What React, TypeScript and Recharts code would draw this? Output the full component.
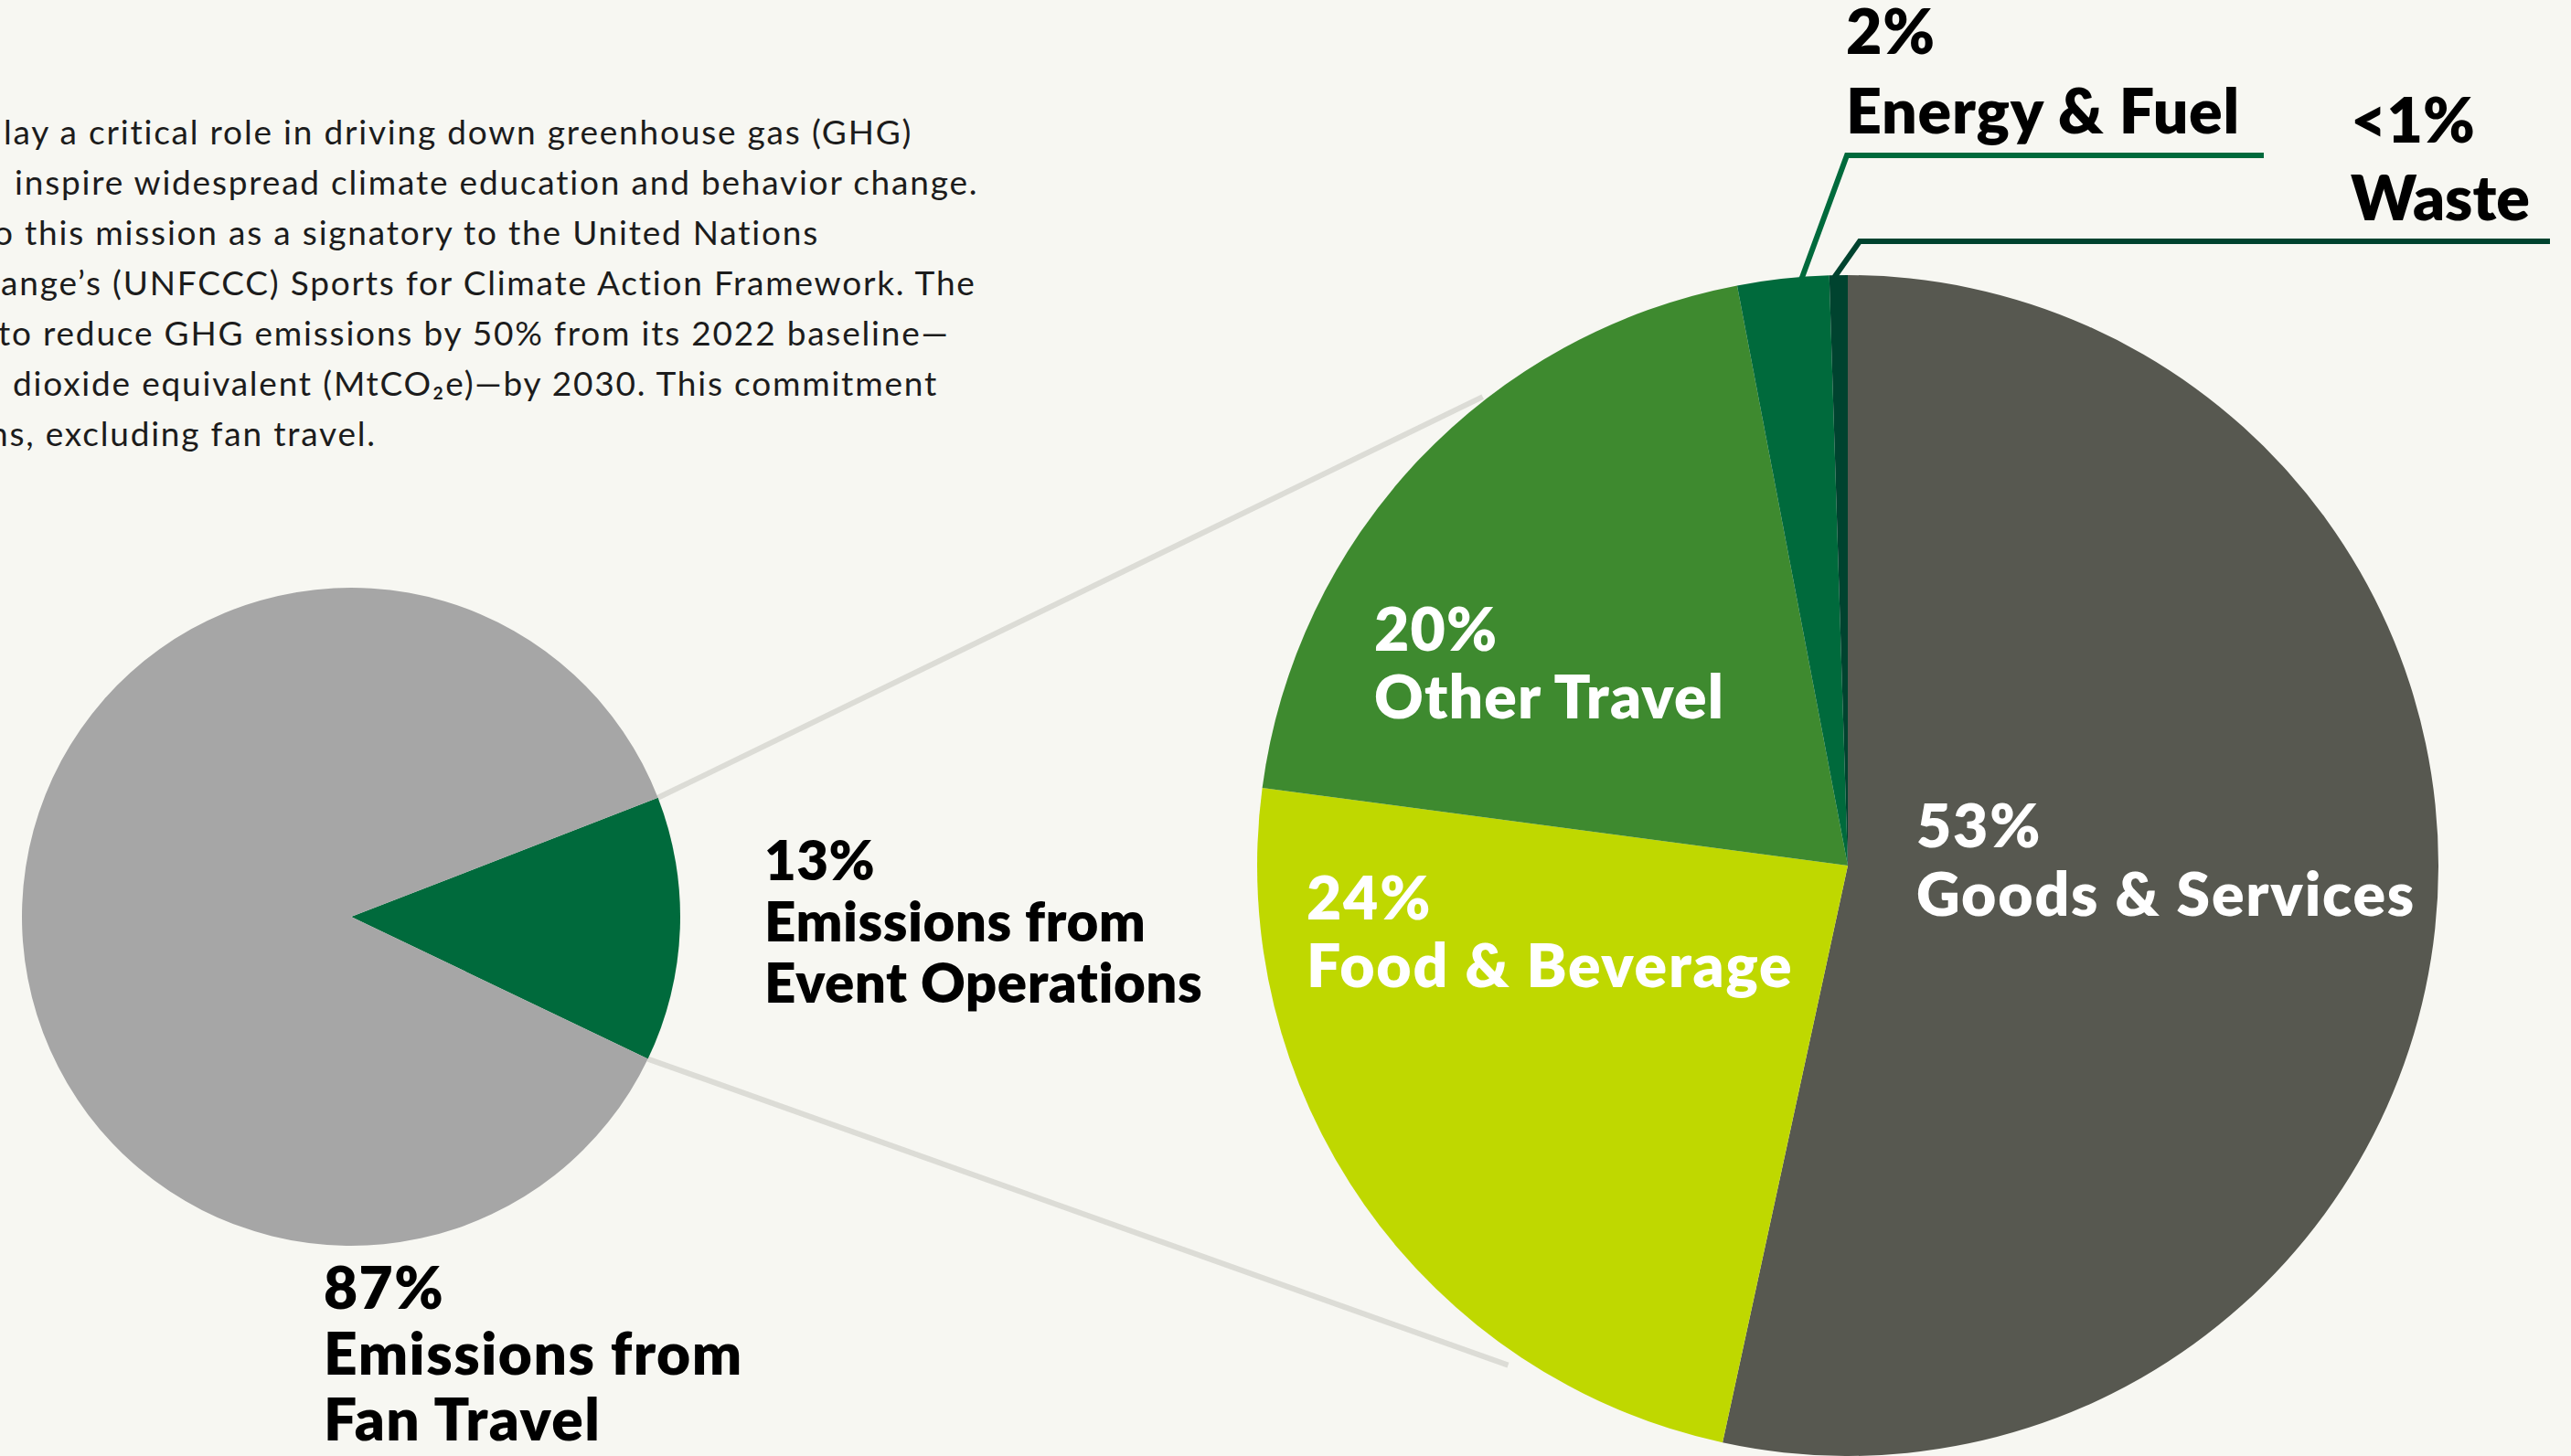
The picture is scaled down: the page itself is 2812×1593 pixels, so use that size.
import React from "react";
import { PieChart, Pie, Cell } from "recharts";

const W = 2812;
const H = 1593;

// overall split (small pie)
const overallNames = ["Event Operations", "Fan Travel"];
const overallValues = [13, 87];
const overallPct = ["13%", "87%"];
const overallColors = ["#006a3c", "#a6a6a6"];

// event operations breakdown (big pie)
const opsNames = ["Goods & Services", "Food & Beverage", "Other Travel", "Energy & Fuel", "Waste"];
const opsValues = [53.4, 23.7, 19.9, 2.5, 0.5];
const opsPct = ["53%", "24%", "20%", "2%", "<1%"];
const opsColors = ["#575850", "#bfd800", "#3e8a2f", "#006a3c", "#00432f"];

const introLines = [
  "lay a critical role in driving down greenhouse gas (GHG)",
  "inspire widespread climate education and behavior change.",
  "o this mission as a signatory to the United Nations",
  "ange\u2019s (UNFCCC) Sports for Climate Action Framework. The",
  "to reduce GHG emissions by 50% from its 2022 baseline\u2014",
  "dioxide equivalent (MtCO\u2082e)\u2014by 2030. This commitment",
  "ns, excluding fan travel.",
];
const introX = [4, 16, -7, 1, -2, 14, -12];

const BG = "#f7f7f2";
const FONT = "Lato, 'Open Sans', sans-serif";

const small = { cx: 384, cy: 1003, r: 360, start: 21.2 };
const big = { cx: 2021, cy: 947, r: 646 };

const polar = (cx: number, cy: number, r: number, deg: number) => {
  const a = (deg * Math.PI) / 180;
  return [cx + r * Math.cos(a), cy - r * Math.sin(a)];
};

const overallData = overallNames.map((name, i) => ({ name, value: overallValues[i] }));
const opsData = opsNames.map((name, i) => ({ name, value: opsValues[i] }));

type Lbl = { x: number; y: number; gap: number; size: number; ls: number; color: string; lines: string[] };

const labels: Lbl[] = [
  { x: 836, y: 963, gap: 67, size: 60, ls: 0.5, color: "#000", lines: [overallPct[0], "Emissions from", overallNames[0]] },
  { x: 354, y: 1432, gap: 72, size: 64, ls: 1.5, color: "#000", lines: [overallPct[1], "Emissions from", overallNames[1]] },
  { x: 2096, y: 927, gap: 75, size: 66, ls: 1.8, color: "#fff", lines: [opsPct[0], opsNames[0]] },
  { x: 1429, y: 1006, gap: 74, size: 66, ls: 1.8, color: "#fff", lines: [opsPct[1], opsNames[1]] },
  { x: 1503, y: 712, gap: 74, size: 66, ls: 1.2, color: "#fff", lines: [opsPct[2], opsNames[2]] },
  { x: 2019, y: 59, gap: 87, size: 68, ls: 0.7, color: "#000", lines: [opsPct[3], opsNames[3]] },
  { x: 2571, y: 156, gap: 85, size: 68, ls: 0, color: "#000", lines: [opsPct[4], opsNames[4]] },
];

export default function App() {
  const up0 = polar(small.cx, small.cy, small.r, small.start);
  const lo0 = polar(small.cx, small.cy, small.r, small.start - overallValues[0] * 3.6);
  const up1 = polar(big.cx, big.cy, big.r + 4, 127.9);
  const lo1 = polar(big.cx, big.cy, big.r + 15, -124.2);
  const en0 = polar(big.cx, big.cy, big.r - 2, 94.5);
  const wa0 = polar(big.cx, big.cy, big.r - 2, 91.3);

  return (
    <div
      style={{
        position: "absolute",
        left: 0,
        top: 0,
        width: W,
        height: H,
        background: BG,
        overflow: "hidden",
      }}
    >
      <svg width={W} height={H} style={{ position: "absolute", left: 0, top: 0 }}>
        <line x1={up0[0]} y1={up0[1]} x2={up1[0]} y2={up1[1]} stroke="#dcdcd6" strokeWidth={6} />
        <line x1={lo0[0]} y1={lo0[1]} x2={lo1[0]} y2={lo1[1]} stroke="#dcdcd6" strokeWidth={6} />
        <polyline
          points={`${en0[0]},${en0[1]} 2020,170 2476,170`}
          fill="none"
          stroke="#006a3c"
          strokeWidth={6}
        />
        <polyline
          points={`${wa0[0]},${wa0[1]} 2034,264 2789,264`}
          fill="none"
          stroke="#00432f"
          strokeWidth={6}
        />
      </svg>

      <PieChart
        width={W}
        height={H}
        margin={{ top: 0, right: 0, bottom: 0, left: 0 }}
        style={{ position: "absolute", left: 0, top: 0 }}
      >
        <Pie
          data={overallData}
          dataKey="value"
          cx={small.cx}
          cy={small.cy}
          outerRadius={small.r}
          innerRadius={0}
          startAngle={small.start}
          endAngle={small.start - 360}
          stroke="none"
          isAnimationActive={false}
        >
          {overallData.map((d, i) => (
            <Cell key={d.name} fill={overallColors[i]} />
          ))}
        </Pie>
        <Pie
          data={opsData}
          dataKey="value"
          cx={big.cx}
          cy={big.cy}
          outerRadius={big.r}
          innerRadius={0}
          startAngle={90}
          endAngle={-270}
          stroke="none"
          isAnimationActive={false}
        >
          {opsData.map((d, i) => (
            <Cell key={d.name} fill={opsColors[i]} />
          ))}
        </Pie>
      </PieChart>

      <svg width={W} height={H} style={{ position: "absolute", left: 0, top: 0, pointerEvents: "none" }}>
        {introLines.map((t, i) => (
          <text
            key={i}
            x={introX[i]}
            y={158 + i * 55}
            fontFamily={FONT}
            fontSize={37}
            letterSpacing={1.8}
            fill="#1c1c1c"
          >
            {t}
          </text>
        ))}
        {labels.map((l, i) =>
          l.lines.map((t, j) => (
            <text
              key={`${i}-${j}`}
              x={l.x}
              y={l.y + j * l.gap}
              fontFamily={FONT}
              fontWeight={800}
              fontSize={l.size}
              letterSpacing={l.ls}
              fill={l.color}
            >
              {t}
            </text>
          ))
        )}
      </svg>
    </div>
  );
}
